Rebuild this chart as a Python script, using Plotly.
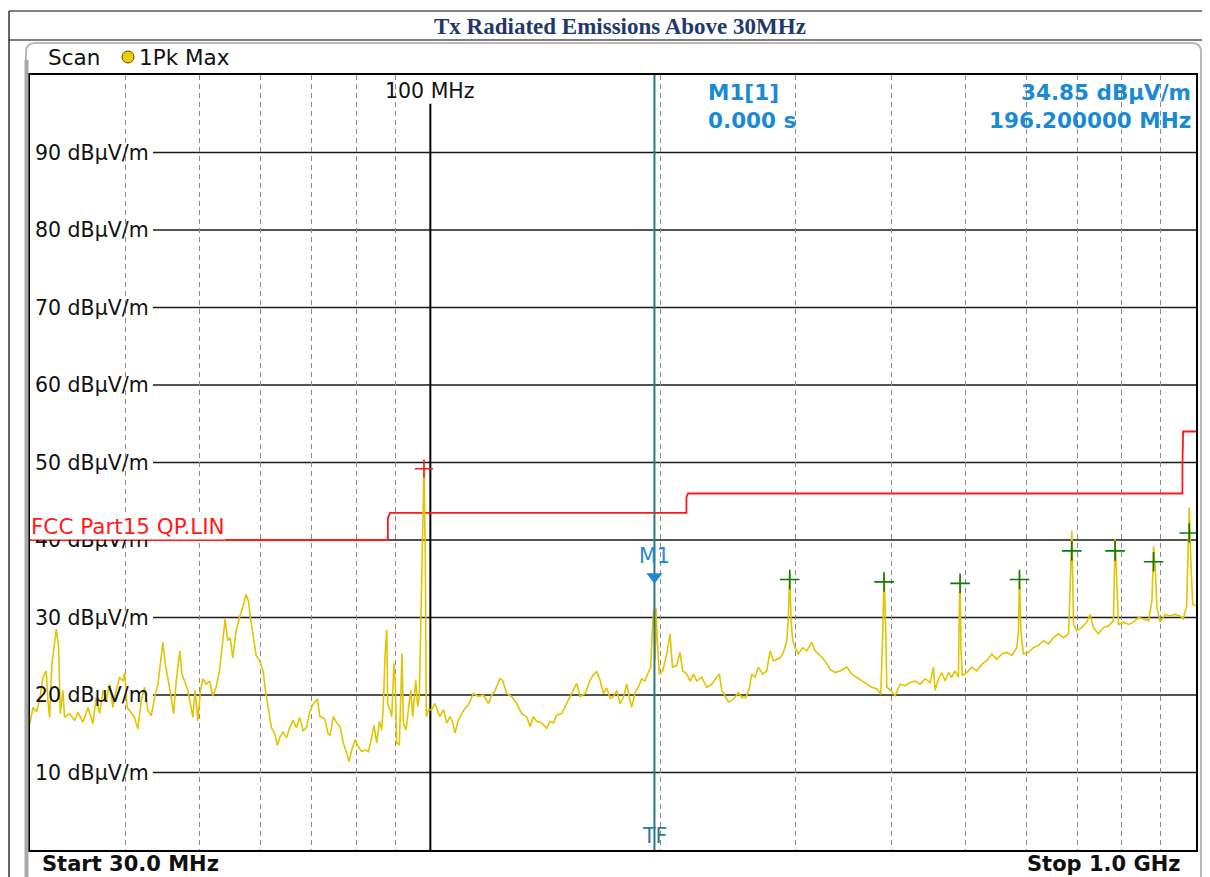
import math
import plotly.graph_objects as go

# ---------------- data ----------------
start_mhz = 30.0
stop_mhz = 1000.0

seg_a_f = [30.0, 30.27, 30.58, 30.88, 31.19, 31.5, 31.66, 31.82, 32.04, 32.47, 32.7, 32.86, 33.12, 33.29,
           33.79, 34.31, 34.65, 35.17, 35.71, 36.25, 36.61, 36.98, 37.36, 37.73, 38.11, 38.49, 38.88, 39.27,
           39.67, 39.87, 40.18, 40.67, 41.08, 41.5, 41.92, 42.34, 42.77, 43.2, 43.64, 44.08, 44.44, 44.74,
           45.06, 45.42, 45.88, 46.2, 46.57, 47.08, 47.37, 47.75, 48.23, 48.62, 48.96, 49.3, 49.69, 50.1,
           50.45, 50.96, 51.47, 51.99, 52.51, 53.04, 53.41, 53.95, 54.38, 54.77, 55.21, 55.76, 56.32, 56.89,
           57.46, 57.87, 58.21, 58.63, 59.22, 59.86, 60.47, 60.9, 61.39, 62.0, 62.63, 63.14, 63.58, 64.22,
           64.87, 65.52, 66.18, 66.85, 67.52, 68.2, 68.89, 69.58, 70.28, 71.2, 71.7, 72.79, 73.53]
seg_a_db = [16.3, 18.4, 17.8, 19.3, 22.3, 23.1, 19.3, 17.1, 24.0, 28.5, 26.1, 17.6, 20.6, 17.1,
            17.6, 16.7, 17.8, 16.5, 18.4, 16.3, 19.7, 17.6, 20.6, 19.3, 21.4, 18.4, 20.6, 22.3,
            21.8, 22.9, 18.4, 17.6, 17.1, 15.6, 19.3, 21.0, 18.0, 17.3, 19.7, 21.4, 24.8, 26.8,
            24.0, 22.3, 19.7, 17.6, 21.8, 25.7, 22.7, 21.8, 20.6, 18.8, 17.1, 20.6, 16.7, 20.6,
            22.1, 21.4, 21.8, 19.9, 21.0, 23.1, 26.1, 29.8, 27.0, 27.4, 24.8, 28.3, 30.0, 31.3,
            33.0, 32.1, 30.0, 27.9, 25.1, 24.4, 23.1, 20.6, 18.4, 15.8, 15.0, 13.5, 14.5, 15.2,
            14.5, 15.8, 16.7, 15.8, 17.1, 15.4, 15.8, 17.8, 18.8, 19.5, 17.3, 16.9, 15.0]

seg_b_f = [73.96, 74.7, 75.47, 76.23, 76.99, 77.76, 78.31, 78.95, 79.75, 80.55, 81.36, 82.18, 83.01, 83.85,
           84.43, 85.11, 85.8, 86.4, 86.83, 87.27, 87.71, 87.97, 88.58, 89.03, 89.65, 90.0, 90.37, 91.1,
           91.46, 91.83, 92.2, 92.95, 93.6, 94.27, 94.84, 95.69, 96.26, 96.74, 97.22, 97.6, 98.1, 98.5,
           98.8, 99.4, 100.4, 101.4, 102.1, 102.9, 104.0, 105.1, 106.1, 107.0, 107.7, 108.8, 109.9, 111.0,
           112.1, 113.8, 115.6, 117.3, 119.1, 120.3, 121.5, 123.3, 124.3, 125.8, 127.7, 129.7, 131.6, 133.6,
           135.0, 136.3, 137.7, 139.8, 141.9, 143.3, 144.8, 146.2, 148.4, 150.7, 153.0, 155.3, 156.9, 159.3,
           161.7, 163.3, 164.9, 166.6, 168.3, 170.0, 171.7, 173.4, 175.2, 176.9]
seg_b_db = [14.8, 17.2, 16.4, 15.9, 13.8, 12.5, 11.4, 12.9, 14.2, 13.3, 12.7, 12.9, 12.7, 14.6,
            16.1, 13.8, 16.6, 15.5, 18.9, 25.2, 28.4, 18.9, 18.1, 17.2, 24.1, 21.5, 13.8, 13.6,
            21.5, 25.4, 16.4, 15.5, 18.1, 20.6, 17.2, 21.9, 18.5, 19.8, 30.1, 38.0, 49.5, 37.8,
            17.2, 18.1, 18.1, 18.9, 18.1, 17.2, 18.1, 16.4, 17.2, 16.4, 15.1, 16.8, 17.6, 18.3,
            18.7, 20.2, 19.8, 20.0, 18.9, 20.0, 20.6, 22.1, 21.9, 20.2, 19.8, 18.9, 17.6, 17.2,
            15.9, 17.2, 16.6, 16.4, 15.7, 16.6, 16.4, 17.4, 17.6, 18.9, 20.2, 21.5, 19.8, 20.2,
            21.9, 22.6, 23.0, 21.9, 20.2, 20.9, 19.6, 19.8, 20.6, 18.9]

seg_c_f = [178.7, 180.5, 181.9, 183.2, 185.1, 186.9, 188.8, 190.7, 192.6, 194.0, 195.0, 195.8, 196.6, 197.1,
           197.8, 199.1, 201.1, 203.6, 205.6, 207.1, 209.8, 211.9, 213.6, 216.2, 218.4, 220.6, 222.8, 226.2,
           229.6, 233.1, 236.6, 238.5, 240.2, 242.6, 245.1, 247.6, 250.0, 252.6, 255.1, 258.4, 261.1, 262.9,
           265.5, 268.2, 271.7, 275.0, 277.8, 280.6, 283.4, 286.2, 289.1, 292.1, 293.5, 294.7, 295.9, 297.4,
           299.5, 302.4, 306.4, 310.1, 314.9, 318.0, 322.9, 327.8, 332.8, 337.8, 342.9, 349.8, 355.1, 360.5,
           366.0, 371.5, 377.1, 382.9, 387.5, 389.9, 391.4, 393.4, 394.6, 399.4, 404.6, 410.8, 417.0, 423.3,
           429.7, 436.2]
seg_c_db = [19.7, 21.4, 19.7, 18.4, 20.3, 21.0, 22.1, 21.8, 22.9, 23.6, 28.7, 31.0, 24.5, 31.3,
            27.4, 22.7, 23.1, 25.3, 27.9, 23.6, 23.8, 25.5, 23.1, 22.7, 21.8, 22.7, 21.8, 22.3,
            21.0, 21.4, 22.3, 22.7, 20.6, 19.9, 19.1, 19.3, 19.7, 20.3, 19.7, 19.7, 21.0, 22.7,
            22.3, 23.6, 22.7, 23.1, 25.7, 24.4, 24.6, 24.8, 25.5, 27.0, 30.0, 35.7, 29.6, 27.0,
            26.1, 25.3, 26.1, 25.7, 26.8, 25.7, 25.1, 24.4, 23.3, 22.9, 23.1, 23.6, 22.7, 22.3,
            21.8, 21.4, 21.0, 20.8, 20.1, 28.1, 35.6, 28.1, 21.0, 20.6, 19.9, 21.4, 21.2, 21.6,
            21.8, 21.4]

seg_d_f = [442.8, 449.5, 454.0, 456.3, 460.9, 465.5, 470.2, 474.9, 479.7, 484.5, 489.4, 490.9, 491.9, 493.3,
           495.3, 501.8, 509.4, 517.2, 525.0, 533.0, 541.1, 549.3, 557.7, 566.2, 574.8, 583.5, 586.4, 588.1,
           590.5, 595.1, 604.2, 613.3, 622.6, 632.1, 641.7, 651.4, 661.3, 671.4, 681.6, 685.0, 688.4, 691.9,
           698.8, 709.4, 720.1, 727.3, 734.6, 745.7, 757.0, 768.5, 780.1, 784.1, 788.1, 792.1, 804.1, 816.3,
           828.7, 841.3, 854.0, 867.0, 875.8, 880.2, 884.6, 889.1, 897.7, 911.3, 925.0, 938.9, 953.1, 962.5,
           972.2, 977.0, 980.0, 984.2, 990.1, 1000.0]
seg_d_db = [22.1, 21.6, 23.6, 20.6, 22.1, 22.9, 21.8, 22.9, 22.3, 23.1, 22.3, 32.1, 35.0, 25.7,
            22.5, 22.9, 23.6, 23.1, 24.0, 24.4, 25.3, 24.6, 25.3, 25.5, 25.1, 26.1, 28.3, 35.8,
            28.3, 25.3, 25.5, 26.1, 26.4, 27.0, 26.6, 27.4, 27.9, 27.4, 27.9, 34.1, 41.2, 29.1,
            28.3, 28.7, 29.4, 30.4, 28.7, 27.9, 28.7, 28.9, 29.6, 40.1, 34.3, 29.1, 29.4, 29.1,
            29.4, 30.0, 29.8, 29.6, 32.1, 39.2, 36.4, 31.3, 29.4, 30.4, 30.2, 30.4, 30.2, 29.8,
            31.5, 37.7, 44.2, 37.7, 31.7, 31.5]

# FCC Part 15 limit line
limit_f = [30.0, 88.0, 88.0, 88.6, 216.0, 216.0, 217.0, 960.0, 960.0, 962.0, 1000.0]
limit_db = [40.0, 40.0, 42.8, 43.5, 43.5, 45.5, 46.0, 46.0, 49.5, 54.0, 54.0]

# peak markers
peak_red_f = [98.1]
peak_red_db = [49.2]
peak_green_f = [294.7, 391.4, 491.9, 588.1, 688.4, 784.1, 880.2, 980.0]
peak_green_db = [34.9, 34.6, 34.4, 34.9, 38.6, 38.6, 37.2, 40.9]

# marker M1
m1_freq = 196.2
m1_level = 34.85
m1_time = 0.000

y_ticks = [10, 20, 30, 40, 50, 60, 70, 80, 90]
y_tick_labels = [f"{v} dBµV/m" for v in y_ticks]
x_minor = [40, 50, 60, 70, 80, 90, 200, 300, 400, 500, 600, 700, 800, 900]

trace_f = seg_a_f + seg_b_f + seg_c_f + seg_d_f
trace_db = seg_a_db + seg_b_db + seg_c_db + seg_d_db

# ---------------- layout helpers ----------------
# the page body has an 8 px margin: the figure is 8 px smaller than the window
BODY = 8
W, H = 1210 - BODY, 877 - BODY
# plot area in window pixels
PL, PR, PT, PB = 30, 1196, 75, 850


def px(xw):
    return (xw - PL) / (PR - PL)


def py(yw):
    return (PB - yw) / (PB - PT)


FONT = "DejaVu Sans"
YELLOW = "#e3c400"
BLUE = "#1a8ad4"

fig = go.Figure()

# 100 MHz reference line
fig.add_trace(go.Scatter(x=[100, 100], y=[0, 96.3], mode="lines",
                         line=dict(color="#000000", width=2), hoverinfo="skip"))
# limit line
fig.add_trace(go.Scatter(x=limit_f, y=limit_db, mode="lines",
                         line=dict(color="#ff1a1a", width=1.8), hoverinfo="skip"))
# measured trace
fig.add_trace(go.Scatter(x=trace_f, y=trace_db, mode="lines",
                         line=dict(color=YELLOW, width=1.6), hoverinfo="skip"))
# M1 marker line
fig.add_trace(go.Scatter(x=[m1_freq, m1_freq], y=[0, 100], mode="lines",
                         line=dict(color="#2c7585", width=2), hoverinfo="skip"))
# peaks
fig.add_trace(go.Scatter(x=peak_red_f, y=peak_red_db, mode="markers",
                         marker=dict(symbol="cross-thin", size=13, line=dict(color="#ff1a1a", width=1.6)),
                         hoverinfo="skip"))
fig.add_trace(go.Scatter(x=peak_green_f, y=peak_green_db, mode="markers",
                         marker=dict(symbol="cross-thin", size=14, line=dict(color="#0a7a0a", width=1.6)),
                         hoverinfo="skip"))
# M1 triangle
fig.add_trace(go.Scatter(x=[m1_freq], y=[m1_level + 0.4], mode="markers",
                         marker=dict(symbol="triangle-down", size=14, color=BLUE),
                         hoverinfo="skip"))

shapes = []
# horizontal grid lines (start right of the labels)
for v in y_ticks:
    shapes.append(dict(type="line", xref="paper", yref="y", x0=px(153), x1=1, y0=v, y1=v,
                       line=dict(color="#1a1a1a", width=1.5), layer="below"))

# page / table borders
shapes.append(dict(type="line", xref="paper", yref="paper", x0=px(9), x1=px(1215), y0=py(11), y1=py(11),
                   line=dict(color="#000000", width=1.2)))
shapes.append(dict(type="line", xref="paper", yref="paper", x0=px(9), x1=px(1215), y0=py(40), y1=py(40),
                   line=dict(color="#000000", width=1.2)))
shapes.append(dict(type="line", xref="paper", yref="paper", x0=px(9), x1=px(9), y0=py(11), y1=py(885),
                   line=dict(color="#000000", width=1.2)))
# instrument panel (rounded)
path = (f"M {px(26)},{py(890)} L {px(26)},{py(52)} Q {px(26)},{py(43)} {px(35)},{py(43)} "
        f"L {px(1192)},{py(43)} Q {px(1201)},{py(43)} {px(1201)},{py(52)} L {px(1201)},{py(890)}")
shapes.append(dict(type="path", xref="paper", yref="paper", path=path,
                   line=dict(color="#b8b8b8", width=2)))
shapes.append(dict(type="line", xref="paper", yref="paper", x0=px(26.5), x1=px(26.5), y0=py(60), y1=py(890),
                   line=dict(color="#a9a9a9", width=4)))
# trace indicator circle
shapes.append(dict(type="circle", xref="paper", yref="paper", x0=px(122), x1=px(134), y0=py(63), y1=py(51),
                   fillcolor="#e8d000", line=dict(color="#5a5000", width=1)))

annotations = []
for v, t in zip(y_ticks, y_tick_labels):
    annotations.append(dict(xref="paper", yref="y", x=px(151), y=v, text=t, showarrow=False,
                            xanchor="right", yanchor="middle", font=dict(family=FONT, size=20.5, color="#111111")))
annotations.append(dict(xref="paper", yref="y", x=0, y=40, text="FCC Part15 QP.LIN", showarrow=False,
                        xanchor="left", yanchor="bottom", bgcolor="#ffffff", borderpad=0,
                        font=dict(family=FONT, size=21.5, color="#ff1a1a")))
annotations.append(dict(xref="paper", yref="paper", x=px(620), y=py(27),
                        text="<b>Tx Radiated Emissions Above 30MHz</b>", showarrow=False,
                        xanchor="center", yanchor="middle",
                        font=dict(family="Liberation Serif", size=23, color="#1f3a6a")))
annotations.append(dict(xref="paper", yref="paper", x=px(46), y=py(57), text="Scan", showarrow=False,
                        xanchor="left", yanchor="middle", font=dict(family=FONT, size=21.5, color="#111111")))
annotations.append(dict(xref="paper", yref="paper", x=px(137), y=py(57), text="1Pk Max", showarrow=False,
                        xanchor="left", yanchor="middle", font=dict(family=FONT, size=21.5, color="#111111")))
annotations.append(dict(xref="x", yref="paper", x=math.log10(100), y=py(91), text="100 MHz", showarrow=False,
                        xanchor="center", yanchor="middle", font=dict(family=FONT, size=20.5, color="#111111")))
annotations.append(dict(xref="paper", yref="paper", x=px(706), y=py(92), text="<b>M1[1]</b>", showarrow=False,
                        xanchor="left", yanchor="middle", font=dict(family=FONT, size=21.5, color=BLUE)))
annotations.append(dict(xref="paper", yref="paper", x=px(706), y=py(121), text=f"<b>{m1_time:.3f} s</b>",
                        showarrow=False, xanchor="left", yanchor="middle",
                        font=dict(family=FONT, size=21.5, color=BLUE)))
annotations.append(dict(xref="paper", yref="paper", x=px(1193), y=py(92), text=f"<b>{m1_level:.2f} dBµV/m</b>",
                        showarrow=False, xanchor="right", yanchor="middle",
                        font=dict(family=FONT, size=21.5, color=BLUE)))
annotations.append(dict(xref="paper", yref="paper", x=px(1193), y=py(121), text=f"<b>{m1_freq:.6f} MHz</b>",
                        showarrow=False, xanchor="right", yanchor="middle",
                        font=dict(family=FONT, size=21.5, color=BLUE)))
annotations.append(dict(xref="x", yref="y", x=math.log10(m1_freq), y=37.9, text="M1", showarrow=False,
                        xanchor="center", yanchor="middle", font=dict(family=FONT, size=20.5, color=BLUE)))
annotations.append(dict(xref="x", yref="y", x=math.log10(m1_freq), y=1.8, text="TF", showarrow=False,
                        xanchor="center", yanchor="middle", font=dict(family=FONT, size=20.5, color="#2a7d98")))
annotations.append(dict(xref="paper", yref="paper", x=px(40), y=py(864), text=f"<b>Start {start_mhz:.1f} MHz</b>",
                        showarrow=False, xanchor="left", yanchor="middle",
                        font=dict(family=FONT, size=21, color="#111111")))
annotations.append(dict(xref="paper", yref="paper", x=px(1182), y=py(864),
                        text=f"<b>Stop {stop_mhz / 1000:.1f} GHz</b>",
                        showarrow=False, xanchor="right", yanchor="middle",
                        font=dict(family=FONT, size=21, color="#111111")))

fig.update_layout(
    width=W, height=H, autosize=False,
    margin=dict(l=PL - BODY, r=(1210 - PR), t=PT - BODY, b=(877 - PB), pad=0),
    paper_bgcolor="#ffffff", plot_bgcolor="#ffffff",
    showlegend=False,
    shapes=shapes, annotations=annotations,
    xaxis=dict(type="log", range=[math.log10(start_mhz), math.log10(stop_mhz)],
               tickvals=x_minor, showticklabels=False, ticks="",
               showgrid=True, gridcolor="#8a8a8a", gridwidth=1, griddash="5px,4px",
               zeroline=False, showline=True, mirror=True, linecolor="#000000", linewidth=2),
    yaxis=dict(range=[0, 100], showticklabels=False, ticks="", showgrid=False, zeroline=False,
               showline=True, mirror=True, linecolor="#000000", linewidth=2),
)

fig.write_html("out.html")
